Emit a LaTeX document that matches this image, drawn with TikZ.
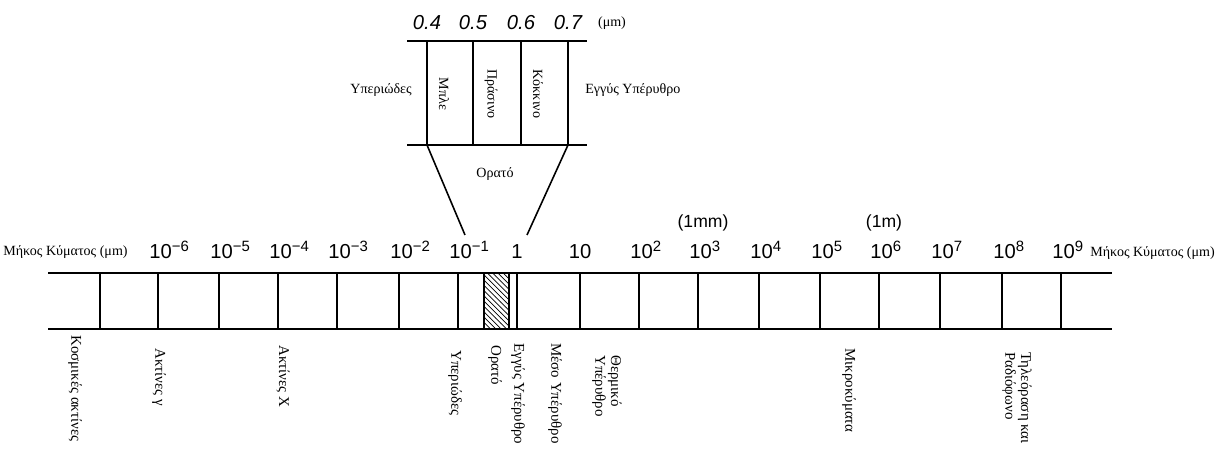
\documentclass[tikz,border=0pt]{standalone}
\usepackage{fontspec}
\setmainfont{Liberation Serif}
\newfontfamily\numfont{Liberation Sans}
\usetikzlibrary{patterns,positioning}
\newcommand{\expo}[1]{10\raisebox{4.5pt}{\fontsize{8.5}{9}\selectfont #1}}

\begin{document}
\begin{tikzpicture}[
    x=0.02cm, y=0.02cm,
    rule/.style={line width=0.9pt},
    power/.style={font=\numfont\fontsize{11.5}{12}\selectfont, anchor=base west, inner sep=0pt},
    micro/.style={font=\numfont\itshape\fontsize{11.5}{12}\selectfont, inner sep=0pt},
    lab/.style={font=\fontsize{8}{9}\selectfont, inner sep=0pt},
    band/.style={rotate=-90, anchor=west, align=left, inner sep=0pt, font=\fontsize{8.5}{9}\selectfont}
]
    \useasboundingbox (0,0) rectangle (1216,455);
    \clip (0,0) rectangle (1216,455);

    % Main wavelength strip
    \coordinate (sTL) at (48,182);
    \coordinate (sTR) at (1112,182);
    \coordinate (sBL) at (48,126);
    \coordinate (sBR) at (1112,126);
    \draw[rule] (sTL) -- (sTR);
    \draw[rule] (sBL) -- (sBR);
    \foreach \x in {100,158,219,278,337,399,458,517,580,639,698,759,820,879,940,1002,1061}
        \draw[rule] (\x,182) -- (\x,126);

    % Visible band
    \draw[rule, pattern=north west lines] (484,126) rectangle (509,182);

    % Powers of ten
    \foreach \x/\n [count=\i] in {158/{−6},219/{−5},278/{−4},337/{−3},399/{−2},458/{−1},639/{2},698/{3},759/{4},820/{5},879/{6},940/{7},1002/{8},1061/{9}}
        \node[power] (pw\i) at (\x-9,196) {\expo{\n}};
    \node[power, anchor=base] (one) at (517,196) {1};
    \node[power, anchor=base] (ten) at (580,196) {10};
    \node[power, anchor=center, font=\numfont\fontsize{10}{12}\selectfont] (mm) at (703,232) {(1mm)};
    \node[power, anchor=center, font=\numfont\fontsize{10}{12}\selectfont] (m) at (884,232) {(1m)};

    \node[lab, anchor=base east] (lenL) at (128,199) {Μήκος Κύματος (μm)};
    \node[lab, anchor=base west] (lenR) at (1090,198) {Μήκος Κύματος (μm)};

    % Zoomed visible part
    \coordinate (zTL) at (407,414);
    \coordinate (zTR) at (587,414);
    \coordinate (zBL) at (407,310);
    \coordinate (zBR) at (587,310);
    \draw[rule] (zTL) -- (zTR);
    \draw[rule] (zBL) -- (zBR);
    \foreach \x/\v [count=\i] in {427/0.4,473/0.5,521/0.6,568/0.7} {
        \draw[rule] (\x,414) -- (\x,310);
        \node[micro] (nm\i) at (\x,432) {\v};
    }
    \node[lab] (um) at (612,432) {(μm)};

    \node[lab, rotate=-90] (blue) at (444,361) {Μπλε};
    \node[lab, rotate=-90] (green) at (491,361) {Πράσινο};
    \node[lab, rotate=-90] (red) at (538,361) {Κόκκινο};

    \node[lab, anchor=east] (uvTop) at (412,365) {Υπεριώδες};
    \node[lab, anchor=west] (nirTop) at (585,365) {Εγγύς Υπέρυθρο};
    \node[lab] (visTop) at (495,281) {Ορατό};

    \coordinate (fL) at (465,220);
    \coordinate (fR) at (527,220);
    \draw[rule] (427,310) -- (fL);
    \draw[rule] (568,310) -- (fR);

    % Region names
    \node[band] (cosmic) at (75,120) {Κοσμικές ακτίνες};
    \node[band] (gamma) at (159,107) {Ακτίνες γ};
    \node[band] (xray) at (283,110) {Ακτίνες Χ};
    \node[band] (uv) at (455,105) {Υπεριώδες};
    \node[band] (vis) at (495,110) {Ορατό};
    \node[band] (nir) at (518,112) {Εγγύς Υπέρυθρο};
    \node[band] (mir) at (555,112) {Μέσο Υπέρυθρο};
    \node[band] (tir) at (607,100) {Θερμικό\\Υπέρυθρο};
    \node[band] (micw) at (849,107) {Μικροκύματα};
    \node[band] (radio) at (1017,103) {Τηλεόραση και\\Ραδιόφωνο};
\end{tikzpicture}
\end{document}
